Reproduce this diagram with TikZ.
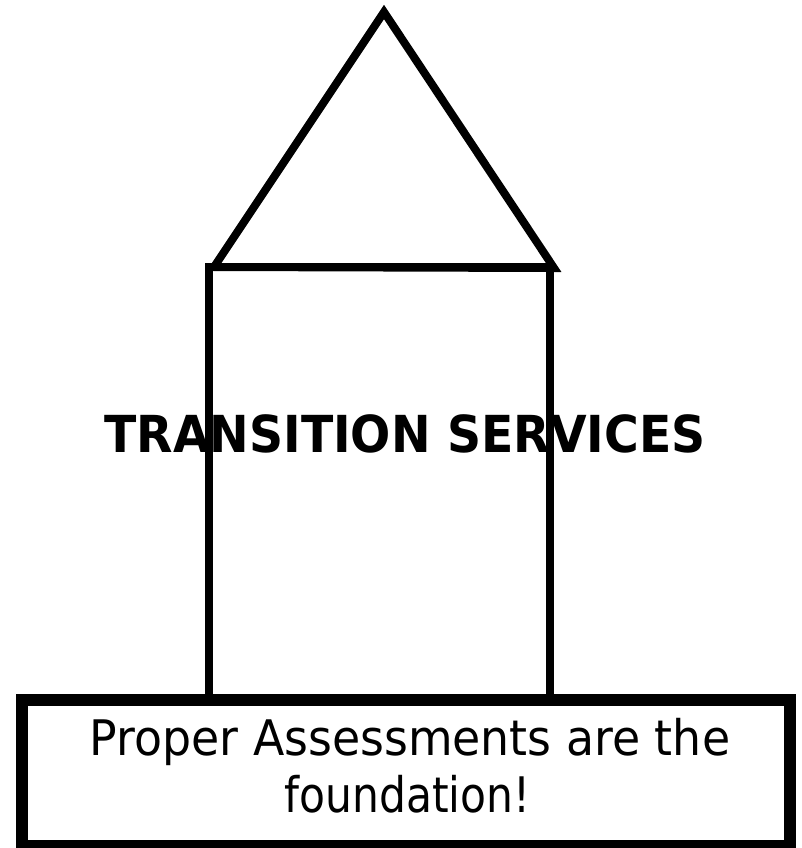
\documentclass[tikz,border=0pt]{standalone}
\usepackage{fontspec}
\setmainfont{DejaVu Sans}
\begin{document}
\begin{tikzpicture}[x=1pt,y=-1pt,
  thinline/.style={line width=8pt,line join=miter},
  thickline/.style={line width=12pt,line join=miter},
  titletext/.style={font=\bfseries\fontsize{51}{52}\selectfont,inner sep=0pt,anchor=base},
  bodytext/.style={font=\fontsize{49}{57}\selectfont,inner sep=0pt,anchor=base}]
\useasboundingbox[fill=white] (0,0) rectangle (801,848);
% roof
\draw[thinline] (384,12) -- (554,268) -- (214,267) -- cycle;
% walls
\draw[thinline] (209,700) -- (209,267) -- (550,267) -- (550,700);
% foundation
\draw[thickline] (22,700) rectangle (790,846);
\node[titletext] (title) at (405,452) {\scalebox{0.928}[1]{TRANSITION SERVICES}};
\node[bodytext] (line1) at (410,755) {\scalebox{0.935}[1]{Proper Assessments are the}};
\node[bodytext] (line2) at (407.5,812) {\scalebox{0.866}[1]{foundation!}};
\end{tikzpicture}
\end{document}
